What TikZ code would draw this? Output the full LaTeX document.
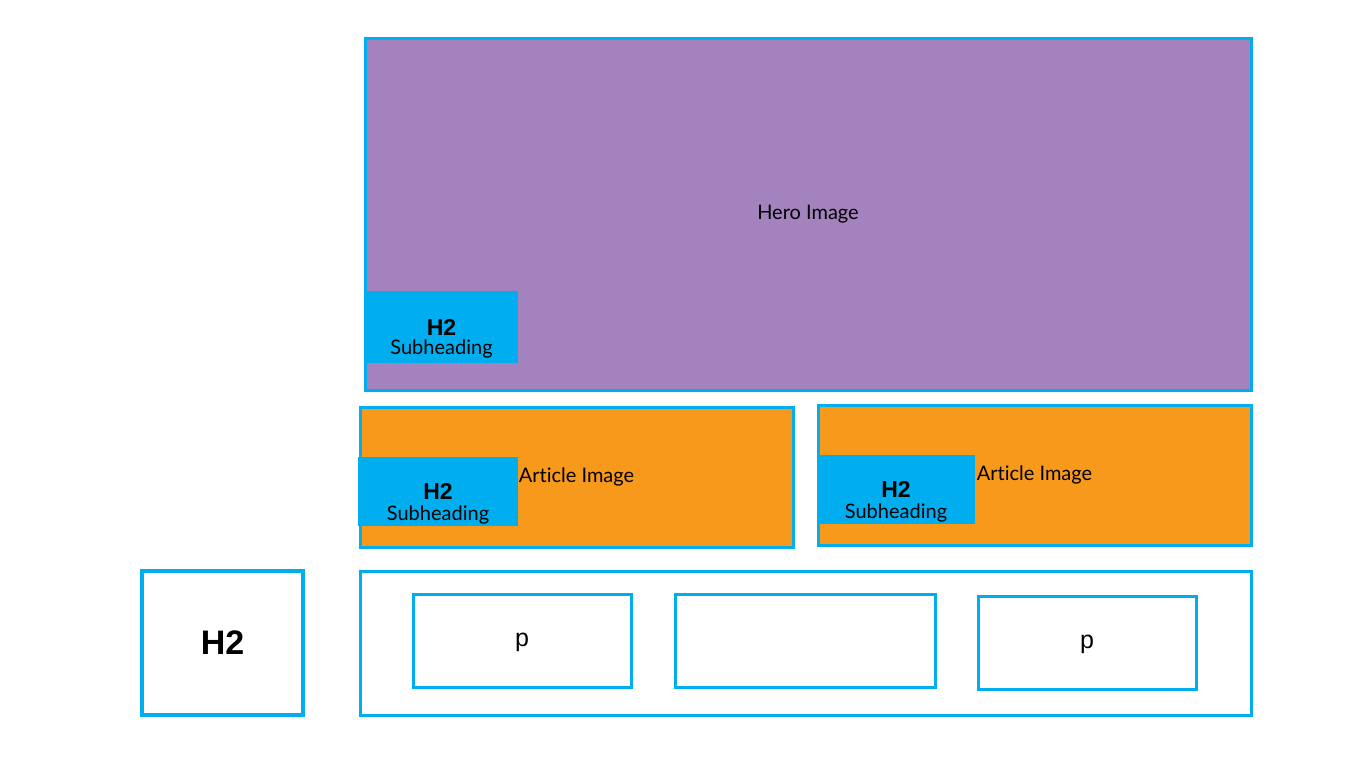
\documentclass[tikz,border=0pt]{standalone}
\usepackage{fontspec}
\setmainfont{Lato}[Ligatures=NoCommon]
\newfontfamily\arialfont{Liberation Sans}
\usetikzlibrary{positioning}
\definecolor{wfblue}{HTML}{00AEEF}
\definecolor{wfpurple}{HTML}{A382BE}
\definecolor{wforange}{HTML}{F7991A}

\begin{document}
\begin{tikzpicture}[x=1pt, y=-1pt,
  every node/.style={inner sep=0pt, outer sep=0pt},
  frame/.style={draw=wfblue, line width=3pt, anchor=north west},
  subbox/.style={fill=wfblue, anchor=north west},
  bodytext/.style={font=\fontsize{20}{20}\selectfont},
  h2small/.style={font=\arialfont\bfseries\fontsize{23}{23}\selectfont, anchor=base},
  subtext/.style={font=\fontsize{20}{20}\selectfont, anchor=base},
  ptext/.style={font=\arialfont\fontsize{25}{25}\selectfont, text depth=2pt}]
\useasboundingbox[fill=white] (0,0) rectangle (1366,768);

% hero
\node[frame, fill=wfpurple, minimum width=886pt, minimum height=352pt, bodytext] (hero) at (365,38.5) {Hero Image};
\node[subbox, minimum width=153pt, minimum height=72pt] (herosub) at (365,291) {};
\node[h2small] at ([yshift=-44pt]herosub.north) {H2};
\node[subtext] at ([yshift=-63pt]herosub.north) {Subheading};

% articles
\node[frame, fill=wforange, minimum width=433pt, minimum height=140pt, bodytext] (art1) at (360,407) {Article Image};
\node[frame, fill=wforange, minimum width=433pt, minimum height=140pt, bodytext] (art2) at (818,405) {Article Image};
\node[subbox, minimum width=160pt, minimum height=69pt] (art1sub) at (358,457) {};
\node[subbox, minimum width=158pt, minimum height=69pt] (art2sub) at (817,455) {};
\node[h2small] at ([yshift=-42pt]art1sub.north) {H2};
\node[subtext] at ([yshift=-63pt]art1sub.north) {Subheading};
\node[h2small] at ([yshift=-42pt]art2sub.north) {H2};
\node[subtext] at ([yshift=-63pt]art2sub.north) {Subheading};

% bottom row
\node[frame, line width=3.5pt, minimum width=161pt, minimum height=144pt,
  font=\arialfont\bfseries\fontsize{34}{34}\selectfont] (h2box) at (142,571) {H2};
\node[frame, minimum width=891pt, minimum height=144pt] (content) at (360,571) {};
\node[frame, minimum width=218pt, minimum height=93pt, ptext] (para1) at (413,594) {p};
\node[frame, minimum width=260pt, minimum height=93pt] (media) at (675,594) {};
\node[frame, minimum width=218pt, minimum height=93pt, ptext] (para2) at (978,596) {p};
\end{tikzpicture}
\end{document}
